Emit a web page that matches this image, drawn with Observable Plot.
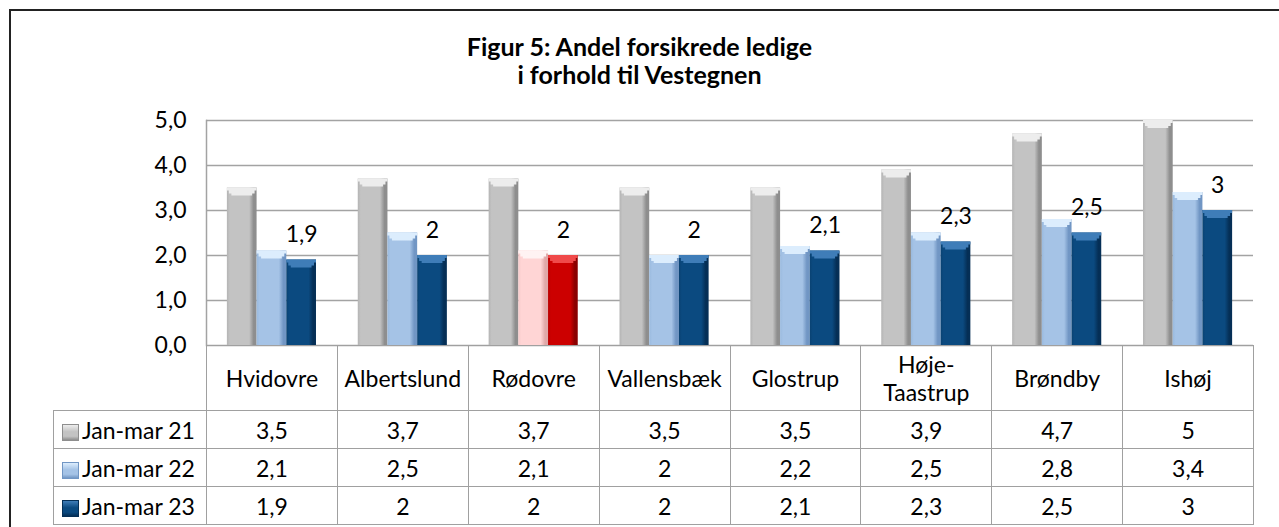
<!DOCTYPE html>
<html><head><meta charset="utf-8">
<script src="https://cdn.jsdelivr.net/npm/d3@7"></script>
<script src="https://cdn.jsdelivr.net/npm/@observablehq/plot@0.6"></script>
<style>
body{margin:0;background:#fff;font-family:Lato,"Open Sans",sans-serif;color:#000;}
#wrap{position:relative;width:1279px;height:527px;overflow:hidden;background:#fff;}
#border{position:absolute;left:9px;top:9px;width:1300px;height:600px;border-left:2px solid #222;border-top:2px solid #222;}
#title{position:absolute;left:0;top:32px;width:1279px;text-align:center;font-weight:bold;font-size:25px;line-height:28px;}
#chart{position:absolute;left:0;top:0;}
#tbl{position:absolute;left:53px;top:345px;border-collapse:collapse;table-layout:fixed;font-size:23px;width:1200px;}
#tbl td{border:1.5px solid #a0a0a0;text-align:center;padding:0;white-space:nowrap;}
#tbl tr.head td{height:64px;line-height:28px;}
#tbl tr.data td{height:37px;}
#tbl td.rh{text-align:left;padding-left:8px;}
#tbl td.corner{border-top:none;border-left:none;}
.sw{display:inline-block;width:17px;height:17px;vertical-align:-2px;margin-right:3px;box-sizing:border-box;}
</style></head>
<body>
<div id="wrap">
  <div id="border"></div>
  <div id="title">Figur 5: Andel forsikrede ledige<br>i forhold til Vestegnen</div>
  <div id="chart"></div>
  <table id="tbl"></table>
</div>
<script>
// ---- data ----
const categories = ["Hvidovre","Albertslund","Rødovre","Vallensbæk","Glostrup","Høje-Taastrup","Brøndby","Ishøj"];
const categoryLabels = ["Hvidovre","Albertslund","Rødovre","Vallensbæk","Glostrup","Høje-<br>Taastrup","Brøndby","Ishøj"];
const seriesNames = ["Jan-mar 21","Jan-mar 22","Jan-mar 23"];
const jan21 = [3.5,3.7,3.7,3.5,3.5,3.9,4.7,5];
const jan22 = [2.1,2.5,2.1,2,2.2,2.5,2.8,3.4];
const jan23 = [1.9,2,2,2,2.1,2.3,2.5,3];
const highlight = "Rødovre";
const yTicks = [0,1,2,3,4,5];

const seriesValues = [jan21, jan22, jan23];
const fmtVal = d => String(d).replace(".", ",");
const fmtTick = d => d.toFixed(1).replace(".", ",");

// colour sets [body, light edge, dark edge, cap highlight]
const palette = {
  g0: ["#c3c3c3", "#b4b4b4", "#8e8e8e", "#ededed"],
  g1: ["#a5c3e6", "#9abade", "#7196c4", "#dcedfd"],
  g2: ["#0b4a80", "#0a4272", "#052f56", "#3f7db8"],
  g1r: ["#ffd5d5", "#f7caca", "#e0a8a8", "#fff3f3"],
  g2r: ["#cc0000", "#ba0000", "#8a0000", "#f04a4a"]
};

// ---- layout ----
const W = 1279, marginLeft = 206, marginRight = 26;
const band = (W - marginLeft - marginRight) / categories.length;
const barW = 29.7;
const off = (band - 3 * barW) / 2;

const marks = [
  Plot.gridY(yTicks, {stroke: "#a3a3a3", strokeOpacity: 1, strokeWidth: 1.5}),
  Plot.frame({anchor: "left", stroke: "#a3a3a3", strokeWidth: 1.5})
];

seriesNames.forEach((s, j) => {
  const vals = seriesValues[j];
  const rows = categories.map((c, i) => ({category: c, value: vals[i],
    key: "g" + j + (c === highlight && j > 0 ? "r" : "")}));
  const insetLeft = off + j * barW;
  const insetRight = band - off - (j + 1) * barW;
  marks.push(Plot.barY(rows, {x: "category", y1: 0, y2: "value",
    fill: d => `url(#bar-${d.key})`, insetLeft, insetRight}));
  // bevelled top: stepped light trapezoid
  [[0, 3, 0], [2, 6, 2], [4.5, 8, 4]].forEach(([side, depth, top]) => {
    marks.push(Plot.barY(rows, {x: "category", y1: "value", y2: "value",
      fill: d => `url(#cap-${d.key})`, insetLeft: insetLeft + side, insetRight: insetRight + side,
      insetTop: top, insetBottom: -depth}));
  });
});

const labelRows = categories.map((c, i) => ({category: c, value: jan23[i]}));
marks.push(Plot.text(labelRows, {x: "category", y: "value", text: d => fmtVal(d.value),
  dx: barW, dy: -25, fontSize: 23, fill: "#000"}));

const plot = Plot.plot({
  width: W, height: 346, marginTop: 120, marginBottom: 1, marginLeft, marginRight,
  x: {domain: categories, paddingInner: 0, paddingOuter: 0, round: false, axis: null},
  y: {domain: [0, 5], ticks: yTicks, tickFormat: fmtTick, tickSize: 0, tickPadding: 20, label: null},
  color: {type: "identity"},
  style: {fontFamily: "Lato, 'Open Sans', sans-serif", fontSize: "23px", color: "#000", background: "transparent", overflow: "visible"},
  marks
});

// gradients
const svg = d3.select(plot.tagName.toLowerCase() === "svg" ? plot : plot.querySelector("svg"));
const defs = svg.insert("defs", ":first-child");
for (const [k, c] of Object.entries(palette)) {
  const g = defs.append("linearGradient").attr("id", "bar-" + k).attr("x1", 0).attr("x2", 1).attr("y1", 0).attr("y2", 0);
  [[0, c[1]], [0.1, c[0]], [0.75, c[0]], [0.9, c[2]], [1, c[2]]].forEach(([o, col]) =>
    g.append("stop").attr("offset", o).attr("stop-color", col));
  const h = defs.append("linearGradient").attr("id", "cap-" + k).attr("x1", 0).attr("x2", 0).attr("y1", 0).attr("y2", 1);
  [[0, c[3]], [1, c[3]]].forEach(([o, col]) =>
    h.append("stop").attr("offset", o).attr("stop-color", col));
}
document.getElementById("chart").appendChild(plot);

// table
const tbl = d3.select("#tbl");
const cg = tbl.append("colgroup");
cg.append("col").style("width", (marginLeft - 53) + "px");
categories.forEach(() => cg.append("col").style("width", band + "px"));
const head = tbl.append("tr").attr("class", "head");
head.append("td").attr("class", "corner");
categoryLabels.forEach(l => head.append("td").html(l));
seriesNames.forEach((s, j) => {
  const tr = tbl.append("tr").attr("class", "data");
  const k = "g" + j, c = palette[k];
  const rh = tr.append("td").attr("class", "rh");
  rh.append("span").attr("class", "sw")
    .style("background", `linear-gradient(180deg, ${c[3]} 0%, ${c[0]} 45%, ${c[0]} 75%, ${c[2]} 100%)`)
    .style("border", `1px solid ${c[2]}`);
  rh.append("span").text(s);
  seriesValues[j].forEach(v => tr.append("td").text(fmtVal(v)));
});
</script>
</body></html>
